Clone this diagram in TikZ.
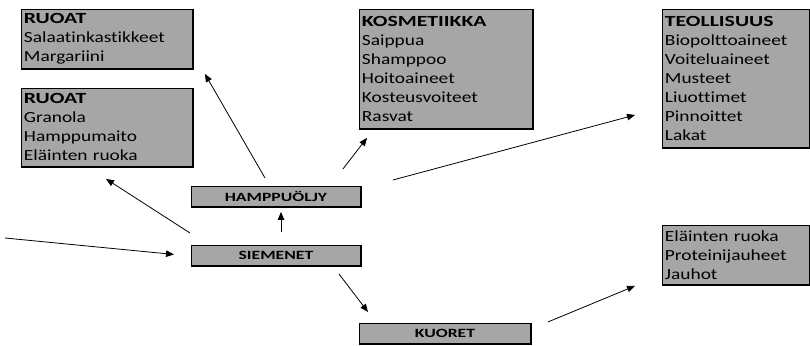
\documentclass[tikz,border=0pt]{standalone}
\usepackage{fontspec}
\setmainfont{Carlito}[Ligatures=NoCommon, FakeStretch=1.25, BoldFeatures={FakeStretch=1.4}]
\usetikzlibrary{arrows.meta}
\definecolor{boxgray}{RGB}{166,166,166}
\tikzset{
  list/.style={draw, line width=0.9pt, fill=boxgray, anchor=north west,
    inner xsep=2.5pt, inner ysep=0pt, align=left,
    font=\fontsize{15.5}{19}\selectfont},
  tag/.style={draw, line width=0.9pt, fill=boxgray, anchor=north west,
    inner sep=0pt, minimum width=169pt, minimum height=20pt,
    font=\bfseries\fontsize{12.6}{14}\selectfont},
  heavy/.style={line width=1.8pt},
  arr/.style={line width=0.8pt, -{Triangle[length=8pt,width=6.5pt]}}
}
\begin{document}
\begin{tikzpicture}[x=1pt, y=-1pt]
\useasboundingbox (0,0) rectangle (810,345);

% product lists
\node[list, text width=166pt, minimum height=59pt] (r1) at (21,9)
  {\textbf{RUOAT}\\Salaatinkastikkeet\\Margariini};
\node[list, text width=166pt, minimum height=78pt] (r2) at (21,88)
  {\textbf{RUOAT}\\Granola\\Hamppumaito\\Eläinten ruoka};
\node[list, text width=168pt, minimum height=119pt] (kos) at (359,9)
  {\textbf{KOSMETIIKKA}\\Saippua\\Shamppoo\\Hoitoaineet\\Kosteusvoiteet\\Rasvat};
\node[list, text width=142pt, minimum height=138pt] (teo) at (662,9)
  {\textbf{TEOLLISUUS}\\Biopolttoaineet\\Voiteluaineet\\Musteet\\Liuottimet\\Pinnoittet\\Lakat};
\node[list, text width=142pt, minimum height=59pt] (ela) at (662,225)
  {Eläinten ruoka\\Proteinijauheet\\Jauhot};

% plant parts
\node[tag] (ham) at (191,186) {HAMPPUÖLJY};
\node[tag] (sie) at (191,245) {SIEMENET};
\node[tag, minimum width=171pt] (kuo) at (359,323) {KUORET};

% heavier right and bottom edges
\foreach \n in {r1,r2,kos,teo,ela,ham,sie,kuo}
  \draw[heavy] (\n.north east) -- (\n.south east) -- (\n.south west);

% connectors
\coordinate (src) at (5,238);
\draw[arr] (src) -- ([shift={(-17,-1)}]sie.west);
\draw[arr] ([shift={(-1,-12)}]sie.north west) -- ([shift={(85,12)}]r2.south west);
\draw[arr] ([shift={(74,-8)}]ham.north west) -- ([shift={(12,5)}]r1.south east);
\draw[arr] ([shift={(-18,-17)}]ham.north east) -- ([shift={(8,9)}]kos.south west);
\draw[arr] ([shift={(32,-6)}]ham.north east) -- ([shift={(-27,106)}]teo.north west);
\draw[arr] ([shift={(90,-13)}]sie.north west) -- ([shift={(90,5)}]ham.south west);
\draw[arr] ([shift={(-22,8)}]sie.south east) -- ([shift={(9,-11)}]kuo.north west);
\draw[arr] ([shift={(17,-1)}]kuo.north east) -- ([shift={(-27,1)}]ela.south west);
\end{tikzpicture}
\end{document}
